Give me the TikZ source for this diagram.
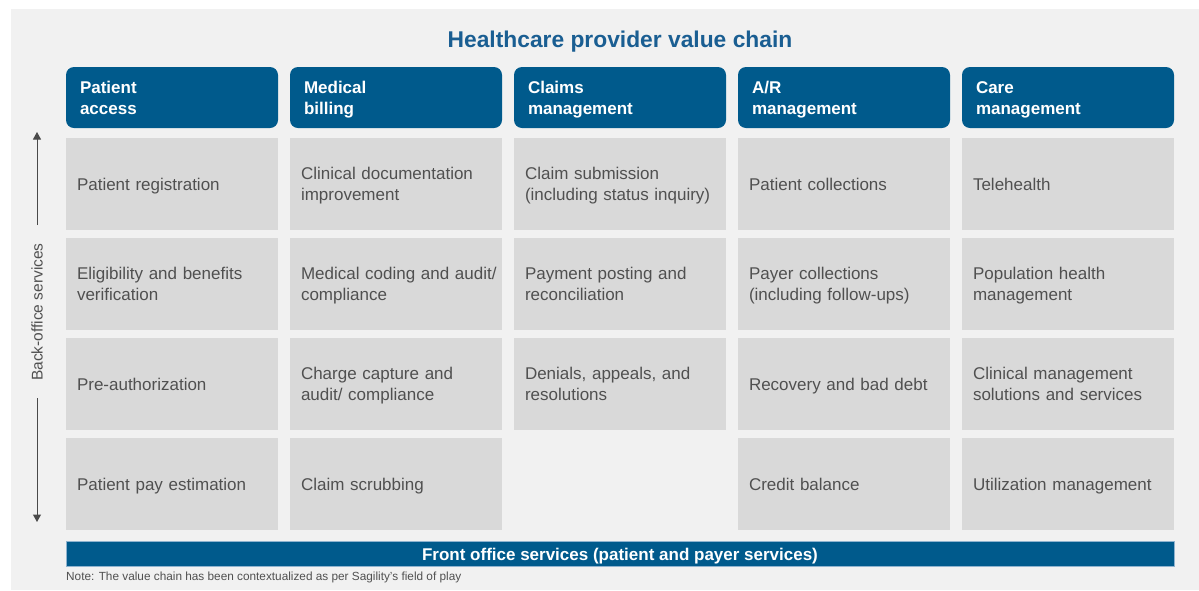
\documentclass[tikz,border=0pt]{standalone}
\usepackage{fontspec}
\setmainfont{Liberation Sans}
\usetikzlibrary{arrows.meta}
\definecolor{bgc}{HTML}{F1F1F1}
\definecolor{cellc}{HTML}{D9D9D9}
\definecolor{headc}{HTML}{005A8C}
\definecolor{titlec}{HTML}{1A5E92}
\definecolor{txtc}{HTML}{505050}
\definecolor{barline}{HTML}{8FB3CF}
\definecolor{arrc}{HTML}{4A4A4A}
\newcommand{\mystrut}{\rule[-4.3pt]{0pt}{21pt}}
\tikzset{
  cell/.style={fill=cellc, draw=none, minimum height=92pt, text width=190pt, inner xsep=11pt, inner ysep=0pt, align=left, text=txtc, font=\fontsize{17}{21}\selectfont, execute at begin node=\mystrut, execute at end node=\mystrut},
  head/.style={fill=headc, draw=none, rounded corners=8pt, minimum height=61pt, text width=184pt, inner xsep=14pt, inner ysep=0pt, align=left, text=white, font=\bfseries\fontsize{17}{21}\selectfont, execute at begin node=\mystrut, execute at end node=\mystrut},
  arr/.style={draw=arrc, line width=1pt, -{Triangle[length=7.5pt,width=8pt]}}
}
\begin{document}
\begin{tikzpicture}[x=1pt,y=-1pt]
\useasboundingbox (0,0) rectangle (1199,590);
\fill[white] (0,0) rectangle (1199,590);
\fill[bgc] (11,9) rectangle (1199,590);
\node[text=titlec, font=\bfseries\fontsize{22.8}{26}\selectfont] (title) at (620,42) {Healthcare provider value chain};
% headers
\node[head] (h1) at (172,97.5) {Patient\\access};
\node[head] (h2) at (396,97.5) {Medical\\billing};
\node[head] (h3) at (620,97.5) {Claims\\management};
\node[head] (h4) at (844,97.5) {A/R\\management};
\node[head] (h5) at (1068,97.5) {Care\\management};
% row 1
\node[cell] (c11) at (172,184) {Patient registration};
\node[cell] (c12) at (396,184) {Clinical documentation\\improvement};
\node[cell] (c13) at (620,184) {Claim submission\\(including status inquiry)};
\node[cell] (c14) at (844,184) {Patient collections};
\node[cell] (c15) at (1068,184) {Telehealth};
% row 2
\node[cell] (c21) at (172,284) {Eligibility and benefits\\verification};
\node[cell] (c22) at (396,284) {\mbox{Medical coding and audit/}\\compliance};
\node[cell] (c23) at (620,284) {Payment posting and\\reconciliation};
\node[cell] (c24) at (844,284) {Payer collections\\(including follow-ups)};
\node[cell] (c25) at (1068,284) {Population health\\management};
% row 3
\node[cell] (c31) at (172,384) {Pre-authorization};
\node[cell] (c32) at (396,384) {Charge capture and\\audit/ compliance};
\node[cell] (c33) at (620,384) {Denials, appeals, and\\resolutions};
\node[cell] (c34) at (844,384) {Recovery and bad debt};
\node[cell] (c35) at (1068,384) {Clinical management\\solutions and services};
% row 4
\node[cell] (c41) at (172,484) {Patient pay estimation};
\node[cell] (c42) at (396,484) {Claim scrubbing};
\node[cell] (c44) at (844,484) {Credit balance};
\node[cell] (c45) at (1068,484) {Utilization management};
% front office bar
\node[fill=headc, draw=barline, line width=0.5pt, minimum width=1108pt, minimum height=25pt, inner sep=0pt, text=white, font=\bfseries\fontsize{17}{20}\selectfont] (bar) at (620,553.5) {\rule[-3.6pt]{0pt}{22pt}Front office services (patient and payer services)};
% note
\node[anchor=west, inner sep=0pt, text=txtc, font=\fontsize{11.8}{14}\selectfont] (note) at (66,577) {Note: The value chain has been contextualized as per Sagility’s field of play};
% back-office
\node[rotate=90, inner sep=0pt, text=txtc, font=\fontsize{15.5}{18}\selectfont] (bo) at (37,312) {Back-office services};
\coordinate (upstart) at (37,225);
\coordinate (upend) at (37,132);
\coordinate (dnstart) at (37,398);
\coordinate (dnend) at (37,522);
\draw[arr] (upstart) -- (upend);
\draw[arr] (dnstart) -- (dnend);
\end{tikzpicture}
\end{document}
